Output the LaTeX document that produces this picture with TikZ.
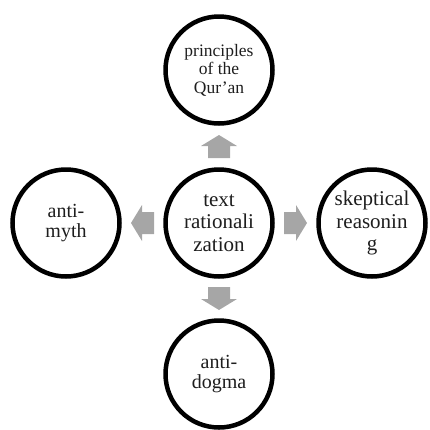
\documentclass[tikz,border=0pt]{standalone}
\usepackage{fontspec}
\setmainfont{Liberation Serif}
\usetikzlibrary{calc}
\definecolor{arrowgray}{RGB}{166,166,166}
\definecolor{txt}{RGB}{30,30,30}
\tikzset{
  bubble/.style={circle, draw=black, line width=4.5pt, fill=white, minimum size=107pt, inner sep=0pt, align=center, text=txt},
  blockarrow/.pic={\fill[arrowgray] (-11.5,-11) -- (0.5,-11) -- (0.5,-18) -- (11.5,0) -- (0.5,18) -- (0.5,11) -- (-11.5,11) -- cycle;}
}
\begin{document}
\begin{tikzpicture}[x=1pt,y=1pt]
\useasboundingbox (0,0) rectangle (430,-429);
\node[bubble, font=\fontsize{21}{22.5}\selectfont] (ctr) at (219,-223) {text\\rationali\\zation};
\node[bubble, font=\fontsize{17.5}{18.5}\selectfont] (top) at (219,-70) {principles\\of the\\Qur’an};
\node[bubble, font=\fontsize{20}{20.5}\selectfont] (bot) at (219,-374) {anti-\\dogma};
\node[bubble, font=\fontsize{20}{20.5}\selectfont] (lft) at (66,-223) {anti-\\myth};
\node[bubble, font=\fontsize{21}{22.5}\selectfont] (rgt) at (372,-223) {skeptical\\reasonin\\g};
\coordinate (mu) at ($(top.south)!0.5!(ctr.north)$);
\coordinate (md) at ($(ctr.south)!0.5!(bot.north)$);
\coordinate (ml) at ($(lft.east)!0.5!(ctr.west)$);
\coordinate (mr) at ($(ctr.east)!0.5!(rgt.west)$);
\pic[rotate=90] at (mu) {blockarrow};
\pic[rotate=-90] at (md) {blockarrow};
\pic[rotate=180] at (ml) {blockarrow};
\pic at (mr) {blockarrow};
\end{tikzpicture}
\end{document}
